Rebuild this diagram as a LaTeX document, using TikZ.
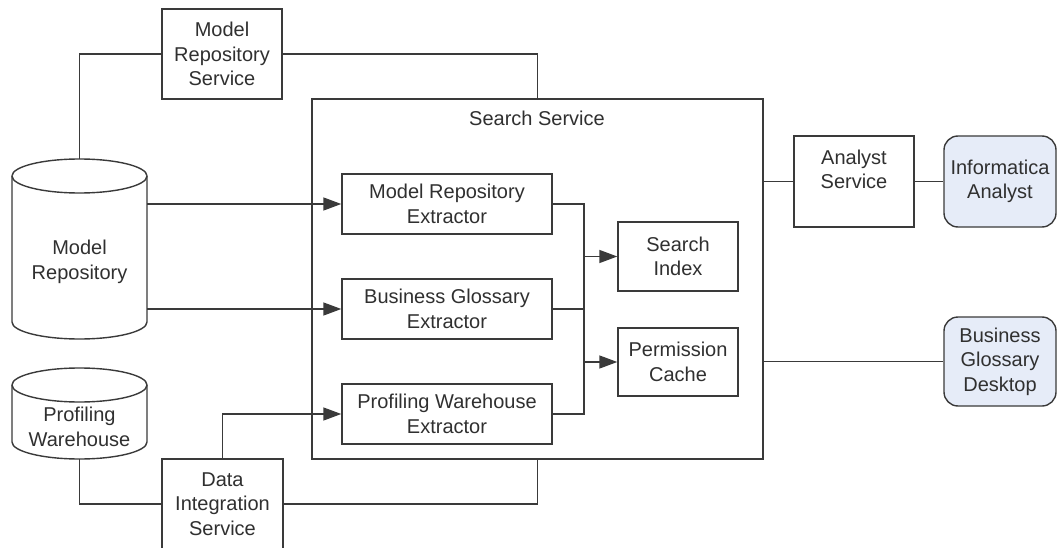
\documentclass[tikz,border=0pt]{standalone}
\usepackage{fontspec}
\setmainfont{Liberation Sans}
\usetikzlibrary{arrows.meta}
\definecolor{ln}{HTML}{3A3A3A}
\definecolor{tx}{HTML}{303030}
\definecolor{cl}{HTML}{E6ECF8}
\begin{document}
\begin{tikzpicture}[x=1pt,y=1pt,
  every node/.style={font=\fontsize{20}{24.5}\selectfont, text=tx, align=center, inner sep=0pt},
  box/.style={draw=ln, line width=1.4pt, rectangle, fill=white},
  client/.style={draw=ln, line width=1.4pt, rectangle, rounded corners=14pt, fill=cl},
  conn/.style={draw=ln, line width=1.4pt},
  arr/.style={conn, -{Triangle[length=18pt,width=13pt]}},
  cyl/.style={draw=ln, line width=1.4pt, fill=white}]
\useasboundingbox (0,0) rectangle (1057,-548);
% Search service container
\node[box, minimum width=451pt, minimum height=360pt] (ss) at (537.5,-279) {};
\node (sst) at (537,-118) {Search Service};
% Model Repository Service
\node[box, minimum width=120pt, minimum height=90pt] (mrs) at (222,-54) {Model\\Repository\\Service};
% Data Integration Service
\node[box, minimum width=121pt, minimum height=90pt] (dis) at (222.5,-504) {Data\\Integration\\Service};
% Extractors
\node[box, minimum width=210pt, minimum height=60pt] (mre) at (447,-204) {Model Repository\\Extractor};
\node[box, minimum width=210pt, minimum height=60pt] (bge) at (447,-309) {Business Glossary\\Extractor};
\node[box, minimum width=210pt, minimum height=60pt] (pwe) at (447,-414) {Profiling Warehouse\\Extractor};
% Index & cache
\node[box, minimum width=120pt, minimum height=69pt] (si) at (678,-256.5) {Search\\Index};
\node[box, minimum width=120pt, minimum height=68pt] (pc) at (678,-362) {Permission\\Cache};
% Analyst service and clients
\node[box, minimum width=120pt, minimum height=91pt] (as) at (854,-181.5) {Analyst\\Service\\\mbox{}};
\node[client, minimum width=112pt, minimum height=91pt] (ia) at (1000,-181.5) {Informatica\\Analyst};
\node[client, minimum width=112pt, minimum height=89pt] (bgd) at (1000,-361.5) {Business\\Glossary\\Desktop};
% Model Repository cylinder
\node[minimum width=135pt, minimum height=180pt] (mr) at (79.5,-249) {};
\draw[cyl] (12,-176) -- (12,-322) arc[start angle=180,end angle=360,x radius=67.5pt,y radius=17pt]
  -- (147,-176) arc[start angle=0,end angle=180,x radius=67.5pt,y radius=17pt] -- cycle;
\draw[cyl] (12,-176) arc[start angle=180,end angle=360,x radius=67.5pt,y radius=17pt];
\node (mrl) at (79.5,-262) {Model\\Repository};
% Profiling Warehouse cylinder
\node[minimum width=135pt, minimum height=91pt] (pw) at (79.5,-413.5) {};
\draw[cyl] (12,-385) -- (12,-442) arc[start angle=180,end angle=360,x radius=67.5pt,y radius=17pt]
  -- (147,-385) arc[start angle=0,end angle=180,x radius=67.5pt,y radius=17pt] -- cycle;
\draw[cyl] (12,-385) arc[start angle=180,end angle=360,x radius=67.5pt,y radius=17pt];
\node (pwl) at (79.5,-427) {Profiling\\Warehouse};
% connectors
\draw[conn] (mr.north) |- (mrs.west);
\draw[conn] (mrs.east) -| (ss.north);
\draw[arr] (mr.east |- mre.west) -- (mre.west);
\draw[arr] (mr.east |- bge.west) -- (bge.west);
\draw[conn] (pw.south) |- (dis.west);
\draw[conn] (dis.east) -| (ss.south);
\draw[arr] (dis.north) |- (pwe.west);
\coordinate (bt) at (584,-204);
\coordinate (bb) at (584,-414);
\draw[conn] (mre.east) -- (bt) -- (bb) -- (pwe.east);
\draw[conn] (bge.east) -- (bge.east -| bt);
\draw[arr] (si.west -| bt) -- (si.west);
\draw[arr] (pc.west -| bt) -- (pc.west);
\draw[conn] (as.west -| ss.east) -- (as.west);
\draw[conn] (as.east) -- (ia.west);
\draw[conn] (bgd.west -| ss.east) -- (bgd.west);
\end{tikzpicture}
\end{document}
